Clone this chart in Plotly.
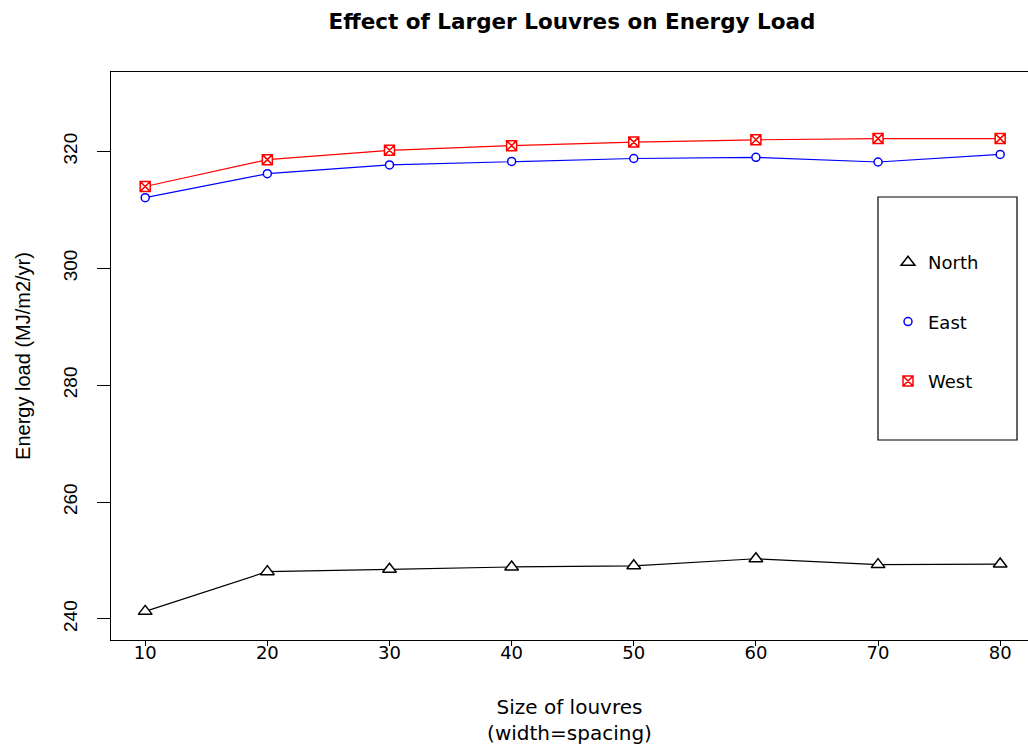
import plotly.graph_objects as go

# Louvre size (width = spacing) and annual energy load per orientation
louvre_size = [10, 20, 30, 40, 50, 60, 70, 80]
north = [241.3, 248.1, 248.5, 248.9, 249.1, 250.3, 249.3, 249.4]
east = [312.1, 316.2, 317.7, 318.3, 318.8, 319.0, 318.2, 319.5]
west = [314.0, 318.6, 320.2, 321.0, 321.6, 322.0, 322.2, 322.2]

series = [
    ("North", north, "black", "triangle-up", 12),
    ("East", east, "blue", "circle", 8),
    ("West", west, "red", "square-x", 10),
]

WIDE = "DejaVu Sans, Verdana, sans-serif"
NARROW = "Liberation Sans, Arial, sans-serif"

fig = go.Figure()

# connecting lines (kept out of the legend)
for name, vals, color, sym, size in series:
    fig.add_trace(go.Scatter(
        x=louvre_size, y=vals, mode="lines",
        line=dict(color=color, width=1.2),
        showlegend=False, hoverinfo="skip",
    ))

# point symbols (white interior so the line stops at each point); also feed the legend
for i, (name, vals, color, sym, size) in enumerate(series):
    fig.add_trace(go.Scatter(
        x=louvre_size, y=vals, mode="markers", name=name,
        legendgroup=f"g{i}",
        marker=dict(symbol=sym, color="white", size=size,
                    line=dict(color=color, width=1.5)),
    ))

# legend frame
fig.add_shape(type="rect", xref="paper", yref="paper",
              x0=(878 - 111) / 917, x1=(1017 - 111) / 917,
              y0=(640 - 440) / 568, y1=(640 - 197) / 568,
              line=dict(color="black", width=1.2), fillcolor="rgba(0,0,0,0)",
              layer="above")

fig.update_layout(
    width=1028, height=745,
    margin=dict(l=111, r=0, t=72, b=105),
    paper_bgcolor="white", plot_bgcolor="white",
    font=dict(family=WIDE, size=18, color="black"),
    title=dict(text="<b>Effect of Larger Louvres on Energy Load</b>",
               x=572 / 1028, xanchor="center", y=1 - 21 / 745, yanchor="middle",
               font=dict(family=WIDE, size=21.5, color="black")),
    showlegend=True,
    legend=dict(x=(888 - 111) / 917, y=(640 - 244) / 568, xanchor="left", yanchor="top",
                bgcolor="rgba(0,0,0,0)", borderwidth=0,
                font=dict(family=WIDE, size=18, color="black"),
                tracegroupgap=33, itemwidth=30),
    xaxis=dict(
        range=[7.2, 7.2 + 917 / 12.214],
        tickvals=louvre_size, ticktext=[str(v) for v in louvre_size],
        ticks="outside", ticklen=5, tickwidth=1.2, tickcolor="black",
        ticklabelstandoff=-9,
        showline=True, linecolor="black", linewidth=1.2, mirror=True,
        showgrid=False, zeroline=False,
        tickfont=dict(family=WIDE, size=18),
        title=dict(text="Size of louvres<br>(width=spacing)", standoff=38,
                   font=dict(family=WIDE, size=20)),
    ),
    yaxis=dict(
        range=[236.4, 333.6],
        tickvals=[240, 260, 280, 300, 320],
        tickangle=-90,
        ticks="outside", ticklen=13, tickwidth=1.2, tickcolor="black",
        ticklabelstandoff=12,
        showline=True, linecolor="black", linewidth=1.2,
        showgrid=False, zeroline=False,
        tickfont=dict(family=NARROW, size=19),
        title=dict(text="Energy load (MJ/m2/yr)", standoff=24,
                   font=dict(family=NARROW, size=20)),
    ),
)

fig.write_html("out.html")
